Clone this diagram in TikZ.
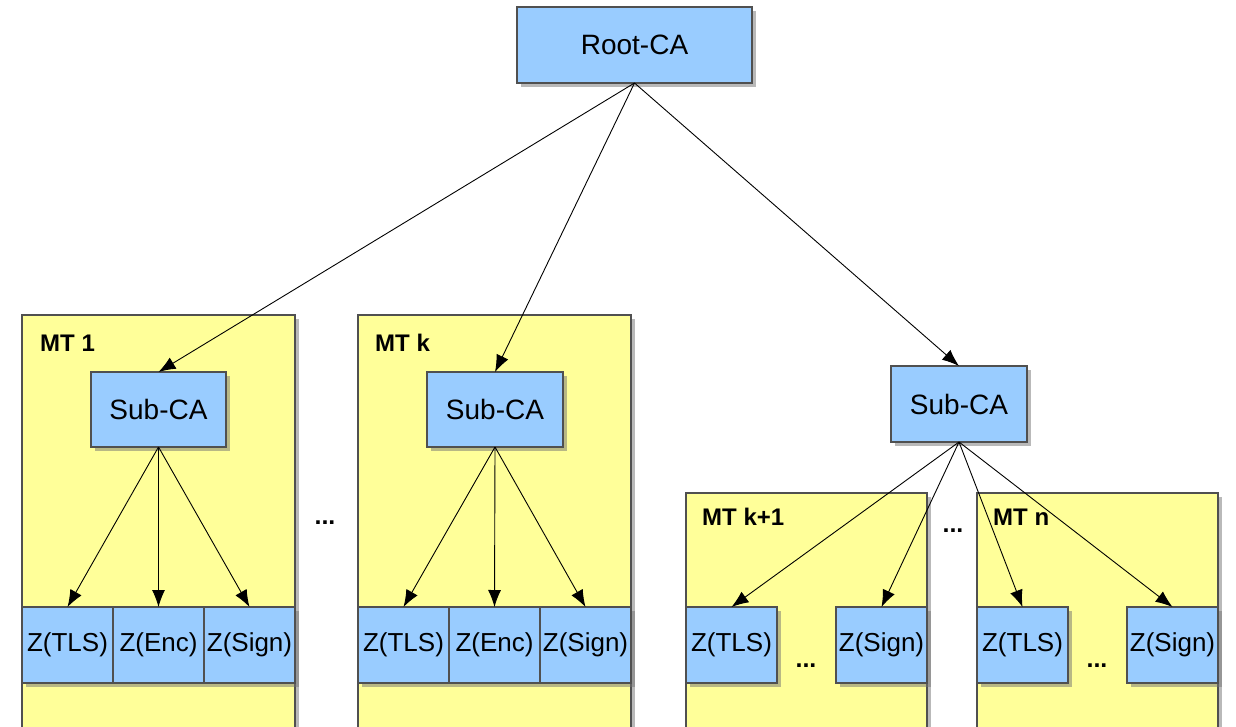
\documentclass[tikz,border=0pt]{standalone}
\usepackage{fontspec}
\setmainfont{Liberation Sans}
\usetikzlibrary{shadows,arrows.meta}
\definecolor{boxblue}{HTML}{99CCFF}
\definecolor{boxyellow}{HTML}{FFFF99}
\definecolor{edgegray}{HTML}{505050}
\tikzset{
 shadowed/.style={drop shadow={shadow xshift=4pt, shadow yshift=-4pt, fill=black!55}},
 bluebox/.style={draw=edgegray, line width=1.3pt, fill=boxblue, inner sep=0pt, outer sep=0pt, shadowed, font=\fontsize{28}{30}\selectfont},
 zbox/.style={bluebox, minimum width=91pt, minimum height=76pt, font=\fontsize{26}{28}\selectfont},
 mtbox/.style={draw=edgegray, line width=1.3pt, fill=boxyellow, shadowed, inner sep=0pt, outer sep=0pt},
 mtlabel/.style={font=\bfseries\fontsize{24}{26}\selectfont, anchor=west, inner sep=0pt},
 dotsnode/.style={font=\bfseries\fontsize{25}{27}\selectfont, anchor=base, inner sep=0pt},
 arr/.style={-{Latex[length=17pt,width=13pt]}, line width=0.9pt, black},
}
\begin{document}
\begin{tikzpicture}[x=1pt,y=-1pt]
\useasboundingbox (0,0) rectangle (1236,726);
\clip (0,0) rectangle (1236,726);
% containers
\node[mtbox, minimum width=273pt, minimum height=425pt] (mt1) at (158.5,527.5) {};
\node[mtbox, minimum width=273pt, minimum height=425pt] (mtk) at (494.5,527.5) {};
\node[mtbox, minimum width=241pt, minimum height=247pt] (mtk1) at (806.5,616.5) {};
\node[mtbox, minimum width=241pt, minimum height=247pt] (mtn) at (1097.5,616.5) {};
\node[mtlabel] (l1) at (40,343) {MT 1};
\node[mtlabel] (lk) at (375,343) {MT k};
\node[mtlabel] (lk1) at (702,517) {MT k+1};
\node[mtlabel] (ln) at (993,517) {MT n};
% CA boxes
\node[bluebox, minimum width=235pt, minimum height=76pt] (root) at (634.5,45) {Root-CA};
\node[bluebox, minimum width=135pt, minimum height=75pt] (sub1) at (158.5,409.5) {Sub-CA};
\node[bluebox, minimum width=136pt, minimum height=75pt] (subk) at (495,409.5) {Sub-CA};
\node[bluebox, minimum width=136pt, minimum height=76pt] (subr) at (959,404) {Sub-CA};
% Z boxes
\node[zbox] (z1t) at (67.5,645) {Z(TLS)};
\node[zbox] (z1e) at (158.5,645) {Z(Enc)};
\node[zbox] (z1s) at (249.5,645) {Z(Sign)};
\node[zbox] (zkt) at (403.5,645) {Z(TLS)};
\node[zbox] (zke) at (494.5,645) {Z(Enc)};
\node[zbox] (zks) at (585.5,645) {Z(Sign)};
\node[zbox] (zk1t) at (731.5,645) {Z(TLS)};
\node[zbox] (zk1s) at (881.5,645) {Z(Sign)};
\node[zbox] (znt) at (1022.5,645) {Z(TLS)};
\node[zbox] (zns) at (1172.5,645) {Z(Sign)};
% dots
\node[dotsnode] (d1) at (325,524) {...};
\node[dotsnode] (d2) at (953,532) {...};
\node[dotsnode] (d3) at (806,667) {...};
\node[dotsnode] (d4) at (1097,667) {...};
% arrows
\draw[arr] (root.south) -- (sub1.north);
\draw[arr] (root.south) -- (subk.north);
\draw[arr] (root.south) -- (subr.north);
\draw[arr] (sub1.south) -- (z1t.north);
\draw[arr] (sub1.south) -- (z1e.north);
\draw[arr] (sub1.south) -- (z1s.north);
\draw[arr] (subk.south) -- (zkt.north);
\draw[arr] (subk.south) -- (zke.north);
\draw[arr] (subk.south) -- (zks.north);
\draw[arr] (subr.south) -- (zk1t.north);
\draw[arr] (subr.south) -- (zk1s.north);
\draw[arr] (subr.south) -- (znt.north);
\draw[arr] (subr.south) -- (zns.north);
\end{tikzpicture}
\end{document}
